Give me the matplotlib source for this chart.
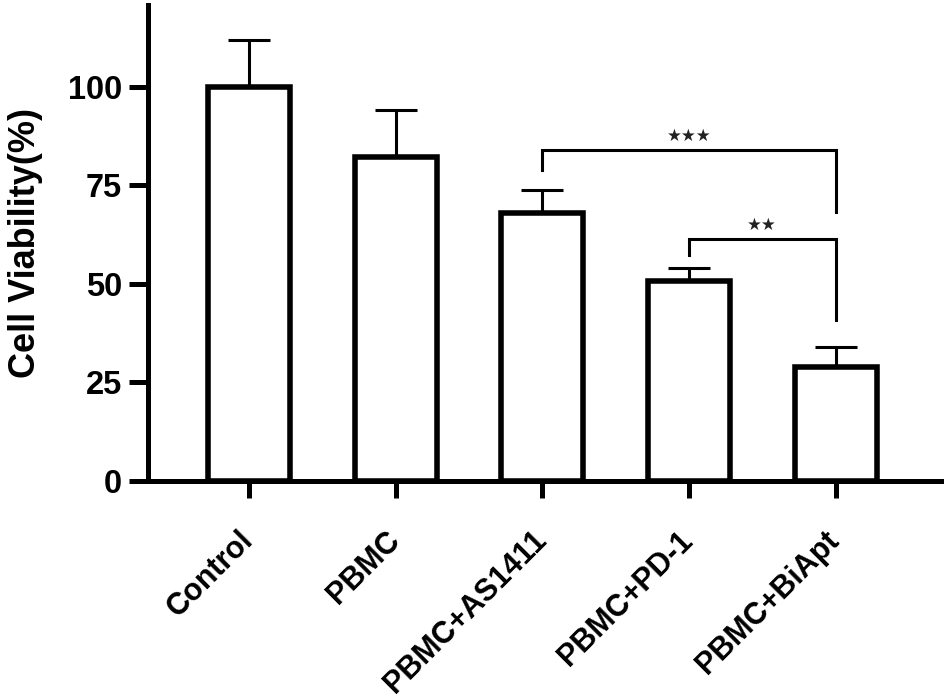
import matplotlib.pyplot as plt
from matplotlib.transforms import ScaledTranslation

plt.rcParams['font.family'] = ['Liberation Sans', 'DejaVu Sans']
plt.rcParams['font.weight'] = 'bold'

# Data
groups = ['Control', 'PBMC', 'PBMC+AS1411', 'PBMC+PD-1', 'PBMC+BiApt']
viability = [100.0, 82.2, 68.0, 50.8, 28.9]
sd = [11.9, 12.0, 5.9, 3.3, 5.1]

# significance brackets: (left group, right group, bar height, left leg end, right leg end, label)
comparisons = [
    (2, 4, 84.0, 79.0, 68.3, '★★★'),
    (3, 4, 61.4, 57.4, 40.9, '★★'),
]

fig = plt.figure(figsize=(9.44, 6.99), dpi=100)
ax = fig.add_axes([0.157, 0.312, 0.843, 0.681])

x = list(range(len(groups)))
ax.bar(x, viability, width=0.56, color='white', edgecolor='black', linewidth=4, zorder=2)
ax.errorbar(x, viability, yerr=[[0] * len(sd), sd], fmt='none', ecolor='black',
            elinewidth=2.2, capsize=15, capthick=2.2, zorder=1)

for i, j, h, yl, yr, lab in comparisons:
    ax.plot([i, i, j, j], [yl, h, h, yr], color='black', lw=2.2, solid_joinstyle='miter')
    ax.text((i + j) / 2, h + 1.2, lab, ha='center', va='bottom', fontsize=12,
            family=['DejaVu Sans'], color='#222222')

ax.set_xlim(-0.69, 4.74)
ax.set_ylim(0, 120.8)
ax.set_yticks([0, 25, 50, 75, 100])
ax.set_xticks(x)
ax.tick_params(axis='y', length=14, width=3.6, labelsize=23.5, pad=5)
ax.tick_params(axis='x', length=12, width=3.6, pad=20)
ax.set_xticklabels(groups, rotation=45, ha='right', va='top', rotation_mode='anchor',
                   fontsize=22, fontweight='bold')
# nudge the slanted labels so they end right under the tick
shift = ScaledTranslation(-0.11, 0.0, fig.dpi_scale_trans)
for t in ax.xaxis.get_major_ticks():
    t.label1.set_transform(t.label1.get_transform() + shift)
for lab in ax.get_yticklabels():
    lab.set_fontweight('bold')

ax.spines['top'].set_visible(False)
ax.spines['right'].set_visible(False)
ax.spines['left'].set_linewidth(3.6)
ax.spines['bottom'].set_linewidth(3.6)

ax.set_ylabel('Cell Viability(%)', fontsize=26, fontweight='bold', labelpad=18)

plt.savefig('out.png', dpi=100)
